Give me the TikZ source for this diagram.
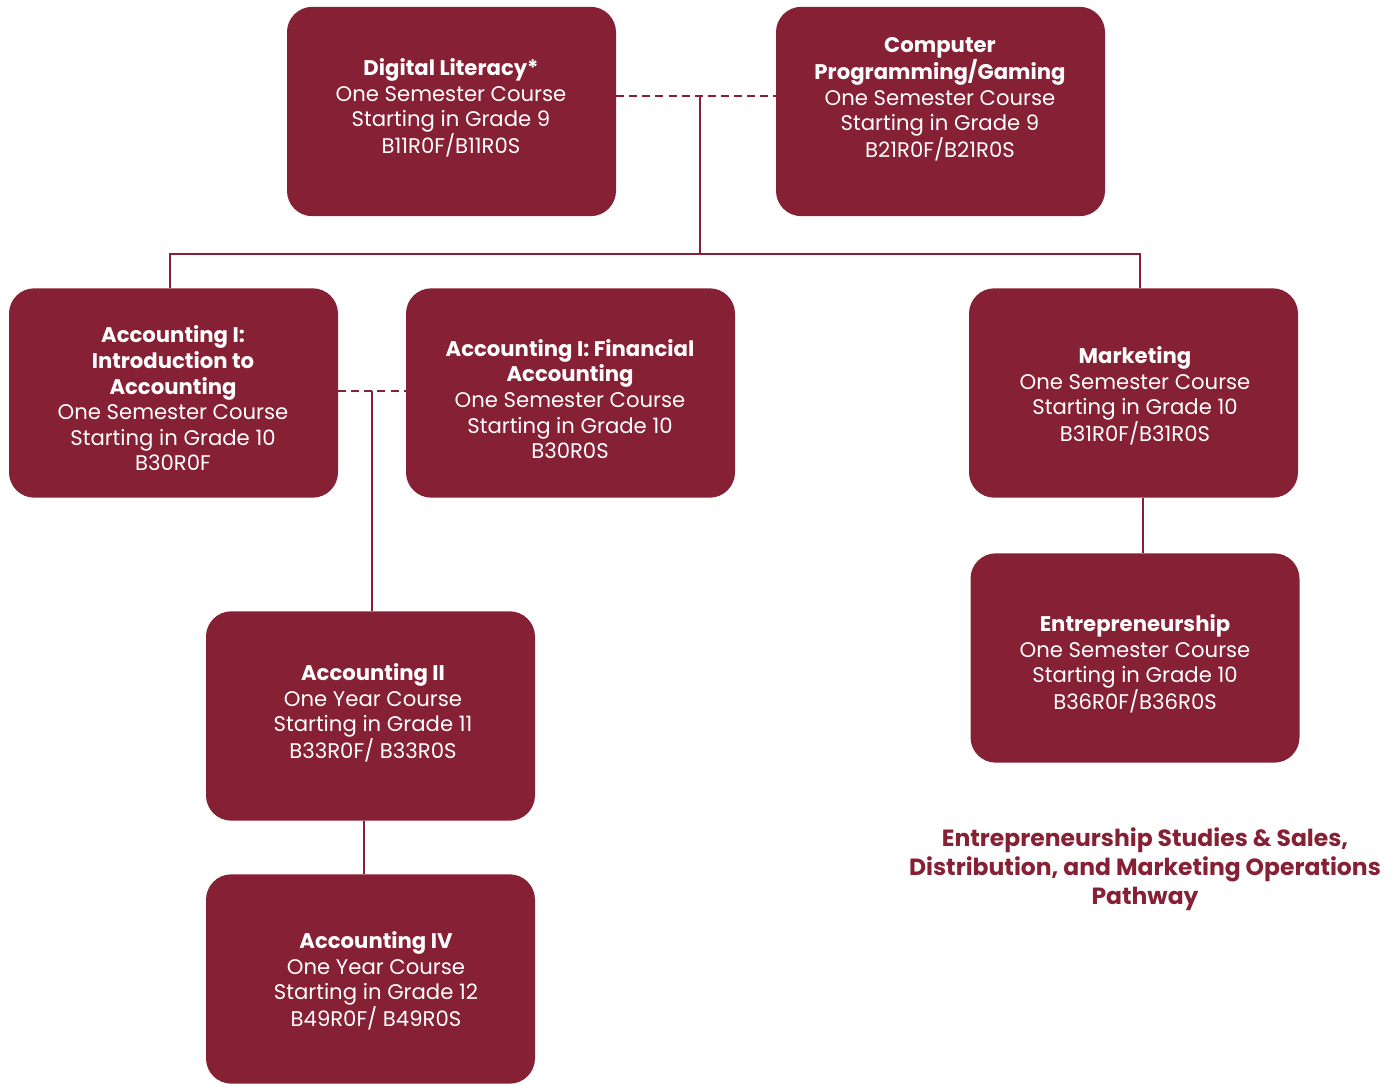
\documentclass[tikz,border=0pt]{standalone}
\usepackage{fontspec}
\setmainfont{Poppins}
\definecolor{wine}{HTML}{862034}
\begin{document}
\begin{tikzpicture}[x=0.75pt,y=-0.75pt,
  course/.style={fill=wine,rounded corners=19pt,minimum width=246.75pt,minimum height=157pt,inner sep=0pt},
  label/.style={text=white,align=center,inner sep=0pt,font=\fontsize{15.9}{19.2}\selectfont},
  link/.style={draw=wine,line width=1.9pt},
  dlink/.style={link,dash pattern=on 6pt off 3.8pt}]
\useasboundingbox (0,0) rectangle (1399,1084);
\node[course] (dl) at (451.5,111.5) {};
\node[course] (cp) at (940.5,111.5) {};
\node[course] (ai) at (173.5,393) {};
\node[course] (af) at (570.5,393) {};
\node[course] (mk) at (1133.5,393) {};
\node[course] (en) at (1135,658) {};
\node[course] (a2) at (370.5,716) {};
\node[course] (a4) at (370.5,979) {};
\node[label] (dlt) at (451,108) {\textbf{Digital Literacy*}\\One Semester Course\\Starting in Grade 9\\B11R0F/B11R0S};
\node[label] (cpt) at (940,99.5) {\textbf{Computer}\\\textbf{Programming/Gaming}\\One Semester Course\\Starting in Grade 9\\B21R0F/B21R0S};
\node[label] (ait) at (173,398.5) {\textbf{Accounting I:}\\\textbf{Introduction to}\\\textbf{Accounting}\\One Semester Course\\Starting in Grade 10\\B30R0F};
\node[label] (aft) at (570,399) {\textbf{Accounting I: Financial}\\\textbf{Accounting}\\One Semester Course\\Starting in Grade 10\\B30R0S};
\node[label] (mkt) at (1135,396) {\textbf{Marketing}\\One Semester Course\\Starting in Grade 10\\B31R0F/B31R0S};
\node[label] (ent) at (1135,664) {\textbf{Entrepreneurship}\\One Semester Course\\Starting in Grade 10\\B36R0F/B36R0S};
\node[label] (a2t) at (373,713) {\textbf{Accounting II}\\One Year Course\\Starting in Grade 11\\B33R0F/ B33R0S};
\node[label] (a4t) at (376,981) {\textbf{Accounting IV}\\One Year Course\\Starting in Grade 12\\B49R0F/ B49R0S};
\node[text=wine,align=center,inner sep=0pt,font=\fontsize{17.6}{21.8}\selectfont\bfseries] (pw) at (1145,869.5) {Entrepreneurship Studies \& Sales,\\Distribution, and Marketing Operations\\Pathway};
\coordinate (j1) at (700,96);
\coordinate (j2) at (700,254);
\coordinate (bl) at (170,254);
\coordinate (br) at (1140,254);
\coordinate (k1) at (372,391);
\draw[dlink] (dl.east |- j1) -- (cp.west |- j1);
\draw[link] (j1) -- (j2);
\draw[link] (bl |- ai.north) -- (bl) -- (br) -- (br |- mk.north);
\draw[dlink] (ai.east |- k1) -- (af.west |- k1);
\draw[link] (k1) -- (k1 |- a2.north);
\draw[link] (364,0 |- a2.south) -- (364,0 |- a4.north);
\draw[link] (1143,0 |- mk.south) -- (1143,0 |- en.north);
\end{tikzpicture}
\end{document}
